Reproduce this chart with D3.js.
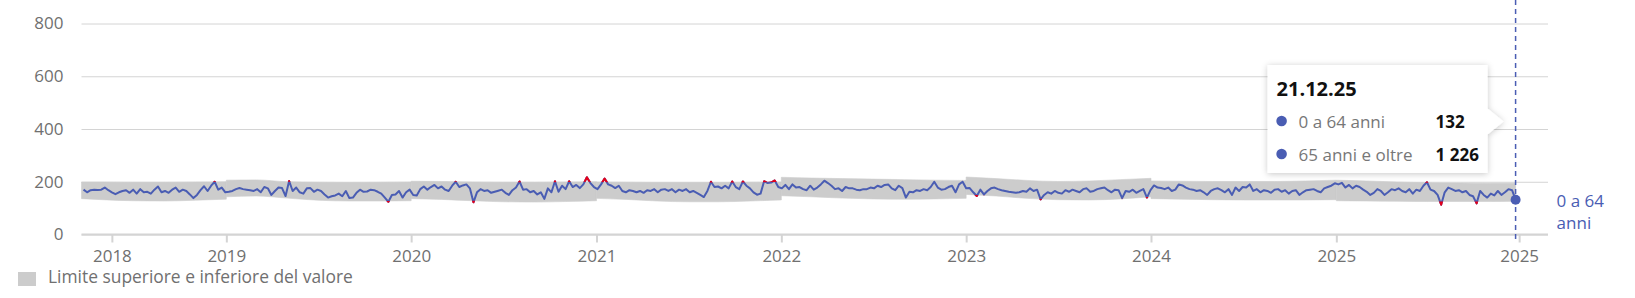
<!DOCTYPE html>
<html>
<head>
<meta charset="utf-8">
<script src="https://cdn.jsdelivr.net/npm/d3@7"></script>
<style>
  body { margin: 0; background: #fff; }
  svg text { font-family: "Open Sans", sans-serif; }
</style>
</head>
<body>
<svg id="chart" width="1635" height="298"></svg>
<script>
// weekly deaths, 0 a 64 anni, one value per week from 25.03.18 to 21.12.25
var firstWeek = "2018-03-25";
var deaths2018 = [170,160,168,170,169,170,178,168,160,153,160,165,168,158,170,155,172,160,162,155,
  170,182,160,165,158,170,178,162,170,165,152,138,150,168,183,165,185,200,170,178,160];
var deaths2019 = [162,165,172,176,172,170,168,165,172,160,180,175,150,165,178,176,146,203,165,178,
  160,155,175,176,162,170,165,152,140,145,148,155,145,165,138,140,158,170,162,163,
  170,168,162,155,140,124,150,152,165,140,160,170];
var deaths2020 = [150,148,172,182,170,180,188,175,182,170,165,185,200,180,186,190,175,122,160,172,
  165,168,158,162,166,170,158,150,168,178,201,170,172,160,165,152,160,135,175,160,
  202,162,185,172,202,180,188,176,190,217,195,180];
var deaths2021 = [172,190,212,190,185,176,185,165,160,168,165,160,165,158,168,165,172,160,170,172,
  165,172,160,170,165,172,160,165,158,150,142,165,200,180,182,175,185,175,201,180,
  172,201,185,175,160,151,155,202,195,197,205,180];
var deaths2022 = [175,188,172,190,178,180,172,168,185,170,178,190,204,195,185,172,175,165,180,175,
  175,170,168,172,172,178,175,185,180,188,190,175,168,185,176,140,162,160,168,165,
  172,168,180,200,178,170,172,180,185,160,190,200];
var deaths2023 = [175,176,160,146,170,152,165,175,178,172,168,165,162,160,158,160,165,162,175,165,
  170,133,150,160,155,165,158,155,168,162,170,165,160,172,175,162,165,172,175,178,
  168,160,170,168,138,165,162,170,158,165,172,140];
var deaths2024 = [168,186,178,176,172,178,165,170,190,186,178,172,170,165,168,160,150,165,172,175,
  168,160,172,150,178,165,180,178,190,165,172,160,168,165,158,170,172,162,168,155,
  165,168,150,160,168,170,172,165,160,175,180,185,194];
var deaths2025 = [190,196,178,188,175,185,180,170,162,150,158,172,165,150,160,172,168,175,165,160,
  172,155,170,165,185,198,170,165,150,113,160,178,172,165,168,160,165,150,145,118,
  165,150,140,155,148,165,150,160,172,168,132];

// limite superiore / inferiore (nodes of the band); a repeated date starts a new year
var bandDates = [
  "2018-03-21","2018-05-01","2018-07-01","2018-09-01","2018-11-01","2019-01-01",
  "2019-01-01","2019-03-01","2019-05-01","2019-07-01","2019-09-01","2019-11-01","2020-01-01",
  "2020-01-01","2020-03-01","2020-05-01","2020-07-01","2020-09-01","2020-11-01","2021-01-01",
  "2021-01-01","2021-03-01","2021-05-01","2021-07-01","2021-09-01","2021-11-01","2022-01-01",
  "2022-01-01","2022-03-01","2022-05-01","2022-07-01","2022-09-01","2022-11-01","2023-01-01",
  "2023-01-01","2023-03-01","2023-05-01","2023-07-01","2023-09-01","2023-11-01","2024-01-01",
  "2024-01-01","2024-03-01","2024-05-01","2024-07-01","2024-09-01","2024-11-01","2025-01-01",
  "2025-01-01","2025-03-01","2025-05-01","2025-07-01","2025-09-01","2025-11-01","2025-12-21"];
var bandUpper = [
  199,199,198,198,199,200,
  206,207,200,198,197,198,199,
  202,201,199,198,198,199,200,
  199,198,197,197,197,198,199,
  217,214,212,210,208,206,205,
  218,212,205,201,203,208,213,
  203,202,201,201,201,203,206,
  206,203,199,196,195,194,194];
var bandLower = [
  136,132,128,127,130,134,
  143,146,138,130,127,127,128,
  136,133,128,124,123,125,128,
  137,133,127,124,124,127,131,
  147,143,138,135,134,135,137,
  152,146,137,132,131,135,143,
  136,134,132,131,131,131,132,
  128,127,126,125,125,125,126];

var yTicks = [0, 200, 400, 600, 800];
var xTickDates = ["2018-05-20","2019-01-01","2020-01-01","2021-01-01","2022-01-01",
  "2023-01-01","2024-01-01","2025-01-01","2025-12-28"];
var xTickLabels = ["2018","2019","2020","2021","2022","2023","2024","2025","2025"];

var tooltipDate = "21.12.25";
var seriesNames = ["0 a 64 anni", "65 anni e oltre"];
var seriesLast = [132, 1226];
var legendLabel = "Limite superiore e inferiore del valore";

var blue = "#4a5db3", red = "#e3001b", band = "#cccccc", gridColor = "#d4d4d4", textColor = "#707070";

var parse = d3.timeParse("%Y-%m-%d");
var values = [].concat(deaths2018, deaths2019, deaths2020, deaths2021, deaths2022, deaths2023, deaths2024, deaths2025);
var start = parse(firstWeek);
var weeks = values.map(function(v, i) { return { date: d3.timeDay.offset(start, 7 * i), value: v }; });

// split band nodes into yearly pieces
var bandSegs = [], seg = [];
bandDates.forEach(function(d, i) {
  if (i > 0 && d == bandDates[i - 1]) { bandSegs.push(seg); seg = []; }
  seg.push({ date: parse(d), upper: bandUpper[i], lower: bandLower[i] });
});
bandSegs.push(seg);

var svg = d3.select("#chart");
var x = d3.scaleTime().domain([parse("2018-03-21"), parse("2026-02-23")]).range([81.5, 1548]);
var y = d3.scaleLinear().domain([0, 800]).range([234.5, 23.5]);

// grid + y labels
var yAxis = svg.append("g").attr("transform", "translate(81.5,0)")
  .call(d3.axisLeft(y).tickValues(yTicks).tickSize(-(1548 - 81.5)).tickPadding(18));
yAxis.select(".domain").remove();
yAxis.selectAll(".tick line").attr("stroke", gridColor).attr("stroke-width", 1);
yAxis.selectAll(".tick text").attr("fill", textColor).style("font-size", "17px");

// band
var bandArea = d3.area().curve(d3.curveMonotoneX)
  .x(function(d) { return x(d.date); })
  .y0(function(d) { return y(d.lower); })
  .y1(function(d) { return y(d.upper); });
svg.append("g").selectAll("path").data(bandSegs).join("path")
  .attr("d", bandArea).attr("fill", band).attr("stroke", band).attr("stroke-width", 0.6);

// clip: area outside the band
var above = d3.area().curve(d3.curveMonotoneX)
  .x(function(d) { return x(d.date); }).y0(0).y1(function(d) { return y(d.upper); });
var below = d3.area().curve(d3.curveMonotoneX)
  .x(function(d) { return x(d.date); }).y0(function(d) { return y(d.lower); }).y1(298);
var clip = svg.append("defs").append("clipPath").attr("id", "outside");
bandSegs.forEach(function(s) {
  clip.append("path").attr("d", above(s));
  clip.append("path").attr("d", below(s));
});

var line = d3.line().x(function(d) { return x(d.date); }).y(function(d) { return y(d.value); });
svg.append("path").datum(weeks).attr("d", line)
  .attr("fill", "none").attr("stroke", blue).attr("stroke-width", 2).attr("stroke-linejoin", "round");
svg.append("path").datum(weeks).attr("d", line).attr("clip-path", "url(#outside)")
  .attr("fill", "none").attr("stroke", red).attr("stroke-width", 2).attr("stroke-linejoin", "round");

// x axis
var xAxis = svg.append("g").attr("transform", "translate(0,234.5)")
  .call(d3.axisBottom(x).tickValues(xTickDates.map(parse)).tickSize(8).tickPadding(7)
    .tickFormat(function(d, i) { return xTickLabels[i]; }));
xAxis.select(".domain").attr("stroke", gridColor).attr("stroke-width", 2).attr("d", "M81.5,0H1548");
xAxis.selectAll(".tick line").attr("stroke", gridColor).attr("stroke-width", 2);
xAxis.selectAll(".tick text").attr("fill", textColor).style("font-size", "17px");

// last point
var last = weeks[weeks.length - 1];
var lx = x(last.date), ly = y(last.value);
svg.append("line").attr("x1", lx).attr("x2", lx).attr("y1", 0).attr("y2", 241)
  .attr("stroke", blue).attr("stroke-width", 1.5).attr("stroke-dasharray", "5,4");
svg.append("circle").attr("cx", lx).attr("cy", ly).attr("r", 5).attr("fill", blue);
var lab = svg.append("text").attr("x", lx + 41).attr("y", ly + 7).attr("fill", blue).style("font-size", "17px");
lab.append("tspan").text("0 a 64");
lab.append("tspan").attr("x", lx + 41).attr("dy", 22).text("anni");

// legend
svg.append("rect").attr("x", 18).attr("y", 272).attr("width", 18).attr("height", 14).attr("fill", band);
svg.append("text").attr("x", 48).attr("y", 283).attr("fill", textColor).style("font-size", "17.4px").text(legendLabel);

// tooltip
var fmt = d3.formatLocale({ decimal: ",", thousands: " ", grouping: [3], currency: ["", ""] }).format(",d");
var defs = svg.select("defs");
var f = defs.append("filter").attr("id", "shadow").attr("x", "-20%").attr("y", "-20%").attr("width", "140%").attr("height", "140%");
f.append("feDropShadow").attr("dx", 0).attr("dy", 1).attr("stdDeviation", 3).attr("flood-color", "#000").attr("flood-opacity", 0.22);
var bx = lx - 248, by = 65, bw = 220, bh = 108, py = 121.5;
var tip = svg.append("g");
tip.append("path")
  .attr("d", "M" + bx + "," + by + "H" + (bx + bw) + "V" + (py - 13) + "L" + (bx + bw + 16) + "," + py +
    "L" + (bx + bw) + "," + (py + 13) + "V" + (by + bh) + "H" + bx + "Z")
  .attr("fill", "#fff").attr("filter", "url(#shadow)");
tip.append("text").attr("x", bx + 9).attr("y", by + 31).attr("fill", "#111")
  .style("font-size", "20px").style("font-weight", "bold").text(tooltipDate);
seriesNames.forEach(function(name, i) {
  var ry = by + 63 + i * 33;
  tip.append("circle").attr("cx", bx + 14).attr("cy", ry - 7).attr("r", 5.3).attr("fill", blue);
  tip.append("text").attr("x", bx + 31).attr("y", ry).attr("fill", "#777").style("font-size", "17px").text(name);
  tip.append("text").attr("x", bx + 168).attr("y", ry).attr("fill", "#111")
    .style("font-size", "17px").style("font-weight", "bold").text(fmt(seriesLast[i]));
});
</script>
</body>
</html>
